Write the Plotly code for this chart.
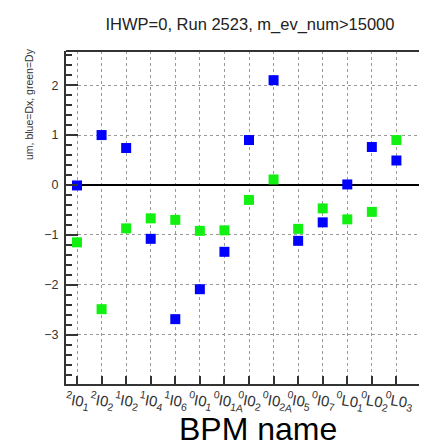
import plotly.graph_objects as go

# ---- data ----
bpm_names = ["2I01", "2I02", "1I02", "1I04", "1I06", "0I01", "0I01A", "0I02",
             "0I02A", "0I05", "0I07", "0L01", "0L02", "0L03"]
tick_labels = ["<sup>2</sup>I0<sub>1</sub>", "<sup>2</sup>I0<sub>2</sub>",
               "<sup>1</sup>I0<sub>2</sub>", "<sup>1</sup>I0<sub>4</sub>",
               "<sup>1</sup>I0<sub>6</sub>", "<sup>0</sup>I0<sub>1</sub>",
               "<sup>0</sup>I0<sub>1A</sub>", "<sup>0</sup>I0<sub>2</sub>",
               "<sup>0</sup>I0<sub>2A</sub>", "<sup>0</sup>I0<sub>5</sub>",
               "<sup>0</sup>I0<sub>7</sub>", "<sup>0</sup>L0<sub>1</sub>",
               "<sup>0</sup>L0<sub>2</sub>", "<sup>0</sup>L0<sub>3</sub>", ""]
dx_blue = [-0.01, 1.00, 0.74, -1.08, -2.69, -2.09, -1.34, 0.90,
           2.10, -1.12, -0.75, 0.01, 0.76, 0.49]
dy_green = [-1.15, -2.49, -0.87, -0.67, -0.70, -0.92, -0.91, -0.30,
            0.11, -0.88, -0.47, -0.69, -0.54, 0.90]
y_ticks = [-3, -2, -1, 0, 1, 2]

xpos = list(range(len(bpm_names)))
grid_pos = list(range(len(bpm_names) + 1))

FONT = "Liberation Sans, Arial, Helvetica, sans-serif"

fig = go.Figure()
fig.add_trace(go.Scatter(x=xpos, y=dy_green, mode="markers",
                         marker=dict(symbol="square", size=10, color="#11f011",
                                     line=dict(width=0)),
                         showlegend=False))
fig.add_trace(go.Scatter(x=xpos, y=dx_blue, mode="markers",
                         marker=dict(symbol="square", size=10, color="#0000ff",
                                     line=dict(width=0)),
                         showlegend=False))

W, H = 427, 448
L, R, T, B = 58, 0, 43, 72

fig.update_layout(
    width=W, height=H,
    margin=dict(l=L, r=R, t=T, b=B, pad=0, autoexpand=False),
    paper_bgcolor="white", plot_bgcolor="white",
    font=dict(family=FONT, color="black"),
    title=dict(text="IHWP=0, Run 2523, m_ev_num>15000",
               font=dict(size=16.5, family=FONT, color="#222"),
               xref="container", yref="container",
               x=242 / W, xanchor="center", y=1 - 16 / H, yanchor="middle"),
    xaxis=dict(
        automargin=False,
        range=[-0.448, 14.57],
        tickmode="array", tickvals=grid_pos, ticktext=tick_labels,
        tickangle=10, ticklabelshift=-11, ticklabelstandoff=0,
        ticks="inside", ticklen=8, tickwidth=1.5, tickcolor="#333",
        tickfont=dict(size=15, color="#333"),
        showgrid=True, gridcolor="#9a9a9a", gridwidth=1, griddash="dot",
        showline=True, linecolor="#333", linewidth=2, mirror=False,
        zeroline=False,
    ),
    yaxis=dict(
        automargin=False,
        range=[-3.99, 2.685],
        tickmode="array", tickvals=y_ticks,
        ticks="inside", ticklen=12, tickwidth=1.5, tickcolor="#333",
        tickfont=dict(size=12.5, color="#333"),
        ticklabelstandoff=3,
        minor=dict(tickmode="linear", tick0=0, dtick=0.2, ticks="inside",
                   ticklen=6, tickwidth=1.5, tickcolor="#333", showgrid=False),
        showgrid=True, gridcolor="#9a9a9a", gridwidth=1, griddash="dot",
        showline=True, linecolor="#333", linewidth=2, mirror=False,
        zeroline=True, zerolinecolor="black", zerolinewidth=1.5,
    ),
    shapes=[dict(type="line", xref="paper", yref="paper", x0=0, x1=1.01,
                 y0=1, y1=1, line=dict(color="#333", width=2))],
    annotations=[
        dict(text="BPM name", xref="paper", yref="paper",
             x=(250 - L) / (W - L - R), y=-(421 - (H - B)) / (H - T - B),
             xanchor="center", yanchor="middle", showarrow=False,
             font=dict(size=32, family=FONT, color="black")),
        dict(text="um, blue=Dx, green=Dy", xref="paper", yref="paper",
             x=-(L - 21) / (W - L - R), y=1 - (96 - T) / (H - T - B),
             xanchor="center", yanchor="middle", textangle=-90,
             showarrow=False,
             font=dict(size=10.5, family=FONT, color="#333")),
    ],
)

fig.write_html("out.html")
